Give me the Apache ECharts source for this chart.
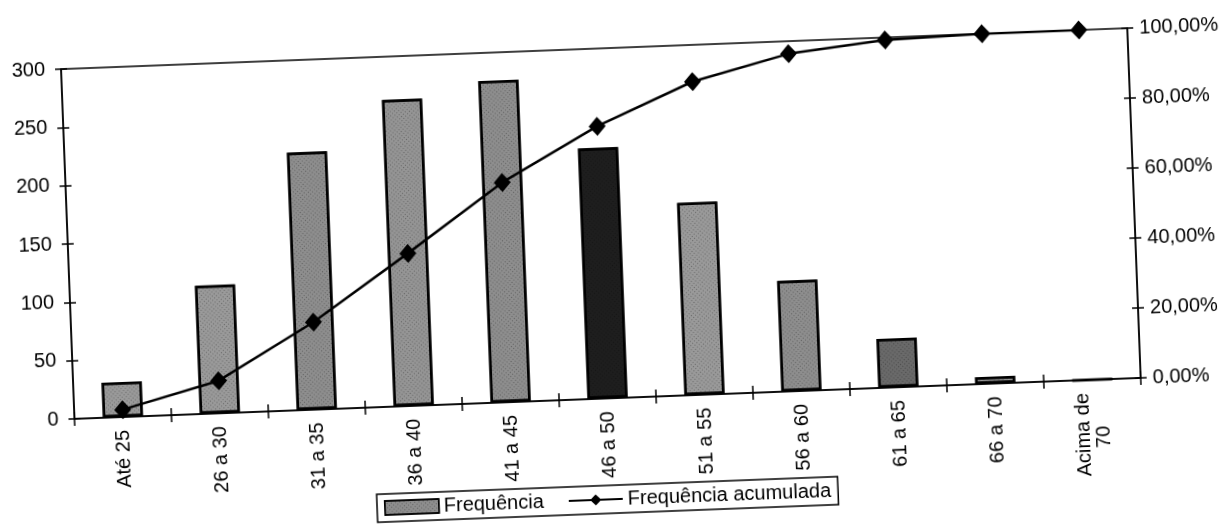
<!DOCTYPE html>
<html>
<head>
<meta charset="utf-8">
<script src="https://cdn.jsdelivr.net/npm/echarts@6/dist/echarts.min.js"></script>
<style>
	html, body { margin: 0; padding: 0; background: #fff; overflow: hidden; }
	/* o original é uma digitalização levemente girada */
	#main { width: 1230px; height: 532px; transform: rotate(-2.2deg); transform-origin: 50% 50%; }
</style>
</head>
<body>
<div id="main"></div>
<script>
var categorias = ['Até 25', '26 a 30', '31 a 35', '36 a 40', '41 a 45', '46 a 50', '51 a 55', '56 a 60', '61 a 65', '66 a 70', 'Acima de\n70'];
var frequencia = [30, 110, 221, 263, 276, 215, 165, 95, 42, 6, 0];
var acumulada = [2.1, 9.3, 25.0, 43.6, 62.8, 77.8, 89.5, 96.4, 99.3, 100, 100];
var eixoEsq = [0, 50, 100, 150, 200, 250, 300];
var eixoDir = [0, 20, 40, 60, 80, 100];

var corBarras = ['#9a9a9a', '#9a9a9a', '#8e8e8e', '#959595', '#8e8e8e', '#1e1e1e', '#9a9a9a', '#8e8e8e', '#6a6a6a', '#9a9a9a', '#9a9a9a'];
var fonte = 'Liberation Sans, Arial, sans-serif';
var tam = 20;

var chart = echarts.init(document.getElementById('main'));

var option = {
	backgroundColor: '#fff',
	animation: false,
	textStyle: { fontFamily: fonte, color: '#000' },
	grid: {
		left: 69, right: 93, top: 48, bottom: 134,
		show: true, borderColor: '#000', borderWidth: 1.5, backgroundColor: 'transparent'
	},
	legend: {
		left: 368, top: 485,
		padding: [4, 7],
		borderColor: '#000', borderWidth: 1.5,
		itemGap: 24, itemWidth: 54, itemHeight: 14,
		textStyle: { fontFamily: fonte, fontSize: tam, color: '#000' },
		data: [
			{ name: 'Frequência', icon: 'rect', itemStyle: { color: '#8e8e8e', borderColor: '#000', borderWidth: 1.5 } },
			{ name: 'Frequência acumulada' }
		]
	},
	xAxis: [{
		type: 'category',
		data: categorias,
		axisLine: { lineStyle: { color: '#000', width: 1.5 } },
		axisTick: { show: true, inside: false, length: 7, lineStyle: { color: '#000', width: 1.5 } },
		axisLabel: {
			rotate: 90, margin: 13, interval: 0,
			fontSize: tam, color: '#000', fontFamily: fonte,
			formatter: function (v) {
				return v.indexOf('\n') > 0 ? v + '      ' : v;
			}
		},
		splitLine: { show: false }
	}, {
		type: 'category',
		data: categorias,
		position: 'bottom',
		axisLine: { show: false },
		axisTick: { show: true, inside: true, length: 7, lineStyle: { color: '#000', width: 1.5 } },
		axisLabel: { show: false }
	}],
	yAxis: [{
		type: 'value',
		min: 0, max: 300, interval: 50,
		axisLine: { show: true, lineStyle: { color: '#000', width: 1.5 } },
		axisTick: { show: true, length: 6, lineStyle: { color: '#000', width: 1.5 } },
		axisLabel: { margin: 16, fontSize: tam, color: '#000', fontFamily: fonte },
		splitLine: { show: false }
	}, {
		type: 'value',
		min: 0, max: 100, interval: 20,
		position: 'right',
		axisLine: { show: true, lineStyle: { color: '#000', width: 1.5 } },
		axisTick: { show: true, length: 6, lineStyle: { color: '#000', width: 1.5 } },
		axisLabel: {
			margin: 12, fontSize: tam, color: '#000', fontFamily: fonte,
			formatter: function (v) { return v.toFixed(2).replace('.', ',') + '%'; }
		},
		splitLine: { show: false }
	}, {
		type: 'value',
		min: 0, max: 300, interval: 50,
		position: 'left',
		axisLine: { show: false },
		axisTick: { show: true, inside: true, length: 6, lineStyle: { color: '#000', width: 1.5 } },
		axisLabel: { show: false },
		splitLine: { show: false }
	}, {
		type: 'value',
		min: 0, max: 100, interval: 20,
		position: 'right',
		axisLine: { show: false },
		axisTick: { show: true, inside: true, length: 6, lineStyle: { color: '#000', width: 1.5 } },
		axisLabel: { show: false },
		splitLine: { show: false }
	}],
	series: [{
		name: 'Frequência',
		type: 'bar',
		data: frequencia,
		barWidth: 40,
		itemStyle: {
			color: function (p) { return corBarras[p.dataIndex]; },
			borderColor: '#000',
			borderWidth: 2.5,
			decal: {
				symbol: 'rect',
				symbolSize: 1,
				color: 'rgba(0,0,0,0.35)',
				dashArrayX: [[1, 2]],
				dashArrayY: [1, 2],
				rotation: 0.7
			}
		}
	}, {
		name: 'Frequência acumulada',
		type: 'line',
		yAxisIndex: 1,
		data: acumulada,
		symbol: 'diamond',
		symbolSize: [17, 19],
		lineStyle: { color: '#000', width: 2.5 },
		itemStyle: { color: '#000' }
	}]
};

chart.setOption(option);
</script>
</body>
</html>
